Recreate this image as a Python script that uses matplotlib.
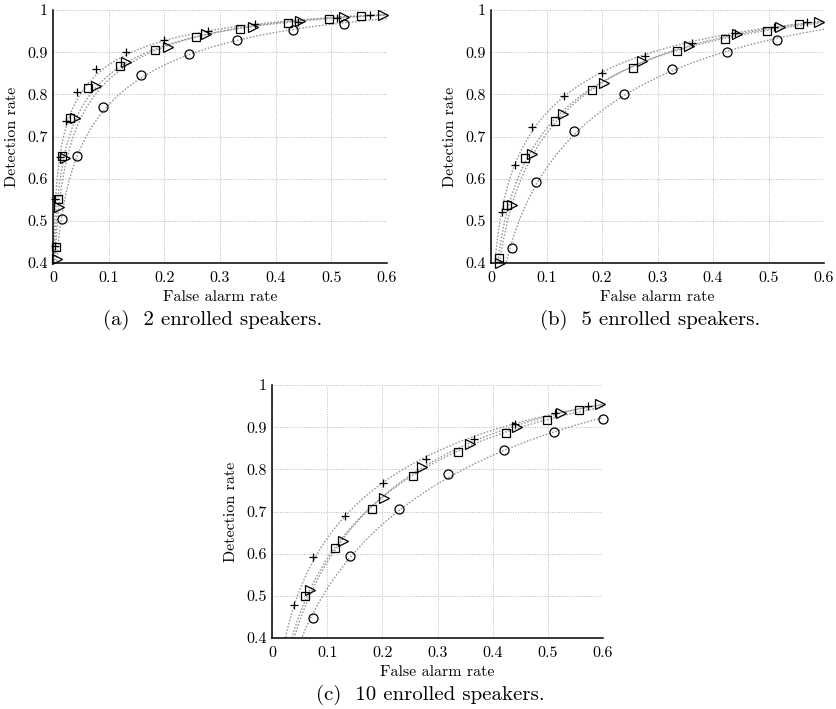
import math
import numpy as np
import matplotlib
matplotlib.use("Agg")
import matplotlib.pyplot as plt

plt.rcParams['font.family'] = 'serif'
plt.rcParams['font.serif'] = ['cmr10', 'DejaVu Serif']
plt.rcParams['mathtext.fontset'] = 'cm'
plt.rcParams['axes.unicode_minus'] = False

# ---------------- data: (false alarm rate, detection rate) per system ----------------
# (a) 2 enrolled speakers
a_plus_far = [0.003, 0.0036, 0.0126, 0.0228, 0.044, 0.077, 0.132, 0.200, 0.279, 0.363, 0.440, 0.510, 0.570]
a_plus_det = [0.440, 0.551, 0.651, 0.737, 0.806, 0.860, 0.900, 0.929, 0.950, 0.966, 0.972, 0.980, 0.988]
a_sq_far = [0.0054, 0.0096, 0.0168, 0.0305, 0.063, 0.120, 0.183, 0.256, 0.336, 0.423, 0.496, 0.554]
a_sq_det = [0.439, 0.551, 0.654, 0.745, 0.816, 0.867, 0.905, 0.935, 0.954, 0.968, 0.978, 0.986]
a_tri_far = [0.0066, 0.011, 0.0216, 0.0395, 0.077, 0.132, 0.206, 0.274, 0.360, 0.444, 0.523, 0.592]
a_tri_det = [0.409, 0.532, 0.648, 0.745, 0.820, 0.876, 0.913, 0.943, 0.960, 0.974, 0.984, 0.988]
a_circ_far = [0.0168, 0.044, 0.089, 0.158, 0.245, 0.331, 0.432, 0.522]
a_circ_det = [0.504, 0.654, 0.769, 0.846, 0.896, 0.930, 0.953, 0.967]

# (b) 5 enrolled speakers
b_plus_far = [0.0198, 0.0425, 0.0738, 0.131, 0.200, 0.278, 0.362, 0.440, 0.510, 0.569]
b_plus_det = [0.522, 0.632, 0.723, 0.796, 0.851, 0.891, 0.921, 0.945, 0.960, 0.971]
b_sq_far = [0.0144, 0.0288, 0.0605, 0.116, 0.182, 0.255, 0.336, 0.422, 0.497, 0.555]
b_sq_det = [0.411, 0.538, 0.650, 0.737, 0.810, 0.863, 0.903, 0.931, 0.951, 0.966]
b_tri_far = [0.0156, 0.0378, 0.0738, 0.129, 0.204, 0.272, 0.357, 0.443, 0.521, 0.591]
b_tri_det = [0.400, 0.538, 0.658, 0.753, 0.826, 0.879, 0.915, 0.942, 0.960, 0.972]
b_circ_far = [0.0378, 0.0815, 0.149, 0.239, 0.326, 0.426, 0.515]
b_circ_det = [0.435, 0.593, 0.713, 0.800, 0.860, 0.901, 0.929]

# (c) 10 enrolled speakers
c_plus_far = [0.0404, 0.0742, 0.1327, 0.202, 0.279, 0.366, 0.440, 0.5126, 0.5729]
c_plus_det = [0.4776, 0.592, 0.690, 0.7665, 0.825, 0.871, 0.907, 0.933, 0.951]
c_sq_far = [0.0603, 0.1146, 0.182, 0.255, 0.3377, 0.424, 0.4987, 0.5566]
c_sq_det = [0.4997, 0.6137, 0.707, 0.7847, 0.8417, 0.885, 0.917, 0.9406]
c_tri_far = [0.0693, 0.128, 0.203, 0.272, 0.359, 0.445, 0.5246, 0.595]
c_tri_det = [0.513, 0.630, 0.731, 0.806, 0.861, 0.901, 0.934, 0.956]
c_circ_far = [0.0742, 0.1417, 0.2303, 0.3184, 0.420, 0.5114, 0.600]
c_circ_det = [0.4475, 0.5947, 0.7055, 0.7879, 0.847, 0.8876, 0.919]

captions = ["(a)  2 enrolled speakers.", "(b)  5 enrolled speakers.", "(c)  10 enrolled speakers."]
x_ticks = [0, 0.1, 0.2, 0.3, 0.4, 0.5, 0.6]
x_ticklabels = ["0", "0.1", "0.2", "0.3", "0.4", "0.5", "0.6"]
y_ticks = [0.4, 0.5, 0.6, 0.7, 0.8, 0.9, 1.0]
y_ticklabels = ["0.4", "0.5", "0.6", "0.7", "0.8", "0.9", "1"]

panels = [
    [(a_plus_far, a_plus_det, '+'), (a_sq_far, a_sq_det, 's'),
     (a_tri_far, a_tri_det, '>'), (a_circ_far, a_circ_det, 'o')],
    [(b_plus_far, b_plus_det, '+'), (b_sq_far, b_sq_det, 's'),
     (b_tri_far, b_tri_det, '>'), (b_circ_far, b_circ_det, 'o')],
    [(c_plus_far, c_plus_det, '+'), (c_sq_far, c_sq_det, 's'),
     (c_tri_far, c_tri_det, '>'), (c_circ_far, c_circ_det, 'o')],
]

marker_size = {'+': 6.0, 's': 5.3, '>': 7.0, 'o': 6.5}

_erf = np.vectorize(math.erf)


def norm_cdf(z):
    return 0.5 * (1.0 + _erf(np.asarray(z, float) / math.sqrt(2.0)))


def norm_ppf(p):
    """Inverse normal CDF by bisection (vectorised)."""
    p = np.clip(np.asarray(p, float), 1e-9, 1 - 1e-9)
    lo = np.full_like(p, -10.0)
    hi = np.full_like(p, 10.0)
    for _ in range(60):
        mid = 0.5 * (lo + hi)
        below = norm_cdf(mid) < p
        lo = np.where(below, mid, lo)
        hi = np.where(below, hi, mid)
    return 0.5 * (lo + hi)


def smooth_roc(far, det):
    """Binormal ROC: straight line in normal-deviate space, sampled densely."""
    b, a = np.polyfit(norm_ppf(far), norm_ppf(det), 1)
    f = np.concatenate([np.geomspace(1e-5, 0.01, 150), np.linspace(0.01, 0.6, 300)])
    d = norm_cdf(a + b * norm_ppf(f))
    return f, d


W, H = 836, 709
fig = plt.figure(figsize=(W / 100, H / 100), dpi=100)

# axes boxes in pixels: (left, top, right, bottom)
boxes = [(53, 10, 387, 263), (491, 10, 824, 263), (272, 385, 603, 638)]

for (l, t, r, btm), series, cap in zip(boxes, panels, captions):
    ax = fig.add_axes([l / W, 1 - btm / H, (r - l) / W, (btm - t) / H])
    for far, det, m in series:
        f, d = smooth_roc(far, det)
        ax.plot(f, d, linestyle=(0, (1.2, 1.2)), color='#9a9a9a', lw=1.0, zorder=2)
    for far, det, m in series:
        ax.plot(far, det, linestyle='none', marker=m, ms=marker_size[m],
                mfc='none', mec='black', mew=0.9, zorder=3, clip_on=False)
    ax.set_xlim(0, 0.6)
    ax.set_ylim(0.4, 1.0)
    ax.set_xticks(x_ticks)
    ax.set_xticklabels(x_ticklabels)
    ax.set_yticks(y_ticks)
    ax.set_yticklabels(y_ticklabels)
    ax.tick_params(length=0, labelsize=11.5)
    ax.tick_params(axis='x', pad=6)
    ax.tick_params(axis='y', pad=4)
    ax.grid(True, linestyle=(0, (1, 1.5)), color='#b8b8b8', lw=0.7)
    ax.set_axisbelow(True)
    ax.spines['top'].set_visible(False)
    ax.spines['right'].set_visible(False)
    ax.spines['left'].set_linewidth(1.1)
    ax.spines['bottom'].set_linewidth(1.1)
    ax.set_xlabel("False alarm rate", fontsize=11.5, labelpad=4)
    ax.set_ylabel("Detection rate", fontsize=11.5, labelpad=6)
    cx = (l + r) / 2 - 7
    fig.text(cx / W, 1 - (btm + 57) / H, cap, fontsize=15, ha='center', va='center')

fig.savefig("out.png", dpi=100)
